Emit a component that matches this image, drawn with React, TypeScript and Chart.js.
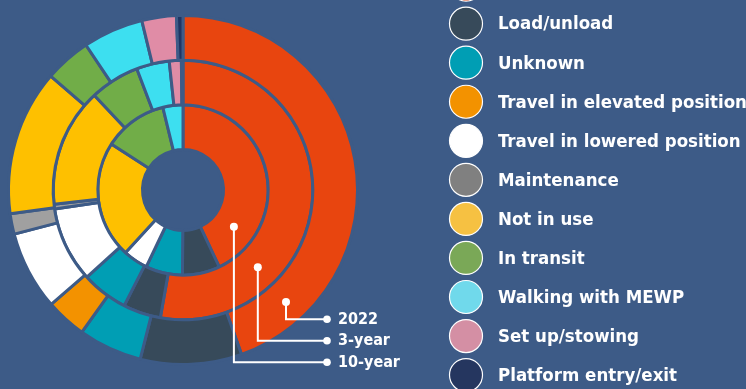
import React, { useEffect, useRef } from 'react';
import { Chart, registerables } from 'chart.js';

Chart.register(...registerables);

const BG = '#3d5b87';

const categories = [
  'Operating at height',
  'Load/unload',
  'Unknown',
  'Travel in elevated position',
  'Travel in lowered position',
  'Maintenance',
  'Not in use',
  'In transit',
  'Walking with MEWP',
  'Set up/stowing',
  'Platform entry/exit',
];

const sliceColors = [
  '#e8450f', '#374a5a', '#009eb4', '#f39200', '#ffffff', '#a0a0a0',
  '#fec000', '#71ad48', '#3ddff0', '#e08ca6', '#1f3563',
];

const legendColors = [
  '#e8450f', '#374a5a', '#009eb4', '#f39200', '#ffffff', '#808080',
  '#f6c142', '#7aa857', '#70d9eb', '#d48fa4', '#25365f',
];

const ringLabels = ['2022', '3-year', '10-year'];

const values2022 = [44.6, 9.4, 5.9, 3.8, 7.3, 1.9, 13.5, 4.3, 5.6, 3.2, 0.6];
const values3Year = [52.9, 4.7, 5.8, 0, 9.4, 0.6, 14.8, 6.2, 4.1, 1.5, 0.2];
const values10Year = [42.9, 7.1, 7.0, 0, 4.7, 0, 22.2, 12.1, 3.8, 0, 0];

const FONT = '"DejaVu Sans Condensed", "DejaVu Sans", sans-serif';

export default function App() {
  const ref = useRef<HTMLCanvasElement>(null);

  useEffect(() => {
    document.body.style.margin = '0';
    document.body.style.background = BG;
    const canvas = ref.current;
    if (!canvas) return;

    const overlay = {
      id: 'overlay',
      afterDraw(chart: any) {
        const ctx = chart.ctx as CanvasRenderingContext2D;
        ctx.save();
        // callouts
        const angles = [137.4, 135.9, 125.9];
        const labelYs = [319.3, 340.7, 362.3];
        const endX = 327;
        ctx.strokeStyle = '#ffffff';
        ctx.fillStyle = '#ffffff';
        ctx.lineWidth = 2;
        chart.data.datasets.forEach((_ds: any, i: number) => {
          const arc = chart.getDatasetMeta(i).data[0];
          const p = arc.getProps(['x', 'y', 'innerRadius', 'outerRadius'], true);
          const r = (p.innerRadius + p.outerRadius) / 2;
          const t = ((angles[i] - 90) * Math.PI) / 180;
          const px = p.x + r * Math.cos(t);
          const py = p.y + r * Math.sin(t);
          ctx.beginPath();
          ctx.moveTo(px, py);
          ctx.lineTo(px, labelYs[i]);
          ctx.lineTo(endX, labelYs[i]);
          ctx.stroke();
          ctx.beginPath();
          ctx.arc(px, py, 4, 0, Math.PI * 2);
          ctx.fill();
          ctx.beginPath();
          ctx.arc(endX, labelYs[i], 3.8, 0, Math.PI * 2);
          ctx.fill();
          ctx.font = `bold 16px ${FONT}`;
          ctx.textBaseline = 'middle';
          ctx.textAlign = 'left';
          ctx.fillText(ringLabels[i], 338, labelYs[i] + 0.5);
        });
        // legend
        categories.forEach((c, i) => {
          const cy = -15.4 + 39.05 * i;
          ctx.beginPath();
          ctx.arc(466, cy, 16.5, 0, Math.PI * 2);
          ctx.fillStyle = legendColors[i];
          ctx.fill();
          ctx.lineWidth = 1.2;
          ctx.strokeStyle = '#ffffff';
          ctx.stroke();
          ctx.fillStyle = '#ffffff';
          ctx.font = `bold 18.5px ${FONT}`;
          ctx.textBaseline = 'middle';
          ctx.textAlign = 'left';
          ctx.fillText(c, 498, cy + 1);
        });
        ctx.restore();
      },
    };

    const mk = (label: string, data: number[]) => ({
      label,
      data,
      backgroundColor: sliceColors,
      borderColor: BG,
      borderWidth: 3,
      hoverOffset: 0,
    });

    const chart = new Chart(canvas, {
      type: 'doughnut',
      data: {
        labels: categories,
        datasets: [
          mk(ringLabels[0], values2022),
          mk(ringLabels[1], values3Year),
          mk(ringLabels[2], values10Year),
        ],
      },
      options: {
        responsive: false,
        animation: false,
        radius: 174.5,
        cutout: '23.2%',
        layout: { padding: { left: 0, right: 380, top: 0, bottom: 9 } },
        events: [],
        plugins: {
          legend: { display: false },
          tooltip: { enabled: false },
        },
      } as any,
      plugins: [overlay],
    });
    return () => chart.destroy();
  }, []);

  return (
    <div style={{ width: 746, height: 389, background: BG, overflow: 'hidden' }}>
      <canvas ref={ref} width={746} height={389} style={{ display: 'block' }} />
    </div>
  );
}
